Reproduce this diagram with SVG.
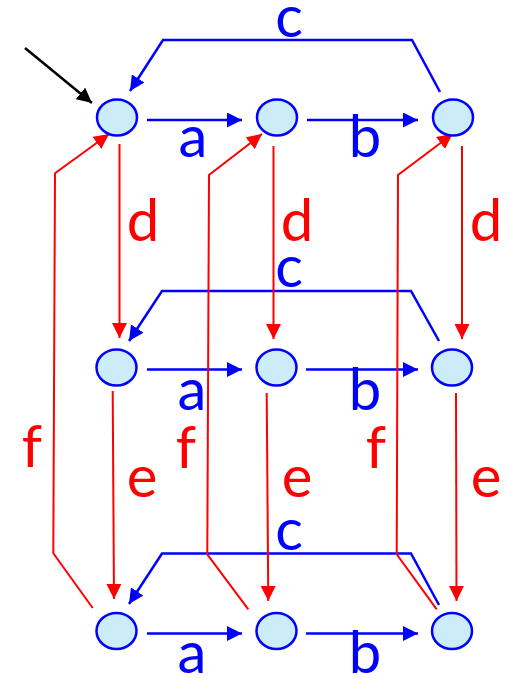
<svg xmlns="http://www.w3.org/2000/svg" width="510" height="678" viewBox="0 0 510 678">
<style>
.node{fill:#CCECFA;stroke:#0000FF;stroke-width:2.5}
.b{stroke:#0000FF;stroke-width:2.5;fill:none}
.r{stroke:#FF0000;stroke-width:2;fill:none}
.k{stroke:#000;stroke-width:2.5;fill:none}
text{font-family:Lato,"Liberation Sans",sans-serif;font-size:58px;text-anchor:middle}
.tb{fill:#0000FF}
.tr{fill:#FF0000}
</style>
<defs>
<marker id="ab" viewBox="0 0 15 15" refX="15" refY="7.5" markerWidth="15" markerHeight="15" markerUnits="userSpaceOnUse" orient="auto"><path d="M0,0L15,7.5L0,15z" fill="#0000FF"/></marker>
<marker id="ar" viewBox="0 0 15 15" refX="15" refY="7.5" markerWidth="15" markerHeight="15" markerUnits="userSpaceOnUse" orient="auto"><path d="M0,0L15,7.5L0,15z" fill="#FF0000"/></marker>
<marker id="ak" viewBox="0 0 15 15" refX="15" refY="7.5" markerWidth="15" markerHeight="15" markerUnits="userSpaceOnUse" orient="auto"><path d="M0,0L15,7.5L0,15z" fill="#000"/></marker>
</defs>
<g id="connectors">
<line class="k" x1="25" y1="48" x2="92" y2="103" marker-end="url(#ak)"/>
<!-- a / b -->
<line class="b" x1="147" y1="120" x2="242" y2="120" marker-end="url(#ab)"/>
<line class="b" x1="307" y1="120" x2="418" y2="120" marker-end="url(#ab)"/>
<line class="b" x1="147" y1="369.5" x2="242" y2="369.5" marker-end="url(#ab)"/>
<line class="b" x1="306" y1="369.5" x2="418" y2="369.5" marker-end="url(#ab)"/>
<line class="b" x1="147" y1="633.5" x2="242" y2="633.5" marker-end="url(#ab)"/>
<line class="b" x1="306" y1="633.5" x2="418" y2="633.5" marker-end="url(#ab)"/>
<!-- c -->
<polyline class="b" points="440,92 412,40 163,40 130,91" marker-end="url(#ab)"/>
<polyline class="b" points="439,341 411,291 162,291 129,341" marker-end="url(#ab)"/>
<polyline class="b" points="439,605 411,553.5 162,553.5 129,604" marker-end="url(#ab)"/>
<!-- d -->
<line class="r" x1="119.5" y1="144" x2="119.5" y2="338" marker-end="url(#ar)"/>
<line class="r" x1="273.5" y1="146" x2="273.5" y2="339" marker-end="url(#ar)"/>
<line class="r" x1="462" y1="146" x2="462" y2="339" marker-end="url(#ar)"/>
<!-- e -->
<line class="r" x1="112.7" y1="391" x2="114" y2="599" marker-end="url(#ar)"/>
<line class="r" x1="266.7" y1="393" x2="268.3" y2="601" marker-end="url(#ar)"/>
<line class="r" x1="456" y1="393" x2="456.5" y2="601" marker-end="url(#ar)"/>
<!-- f -->
<polyline class="r" points="92.7,608 53.3,553.3 55,173.3 109,134" marker-end="url(#ar)"/>
<polyline class="r" points="248.3,609.3 207.3,554.3 209,175 262,134" marker-end="url(#ar)"/>
<polyline class="r" points="436.7,609.3 396.7,554.3 398,175 452.5,134" marker-end="url(#ar)"/>
</g>
<g id="n11"><ellipse class="node" cx="117" cy="117.5" rx="20" ry="18"/></g>
<g id="n12"><ellipse class="node" cx="277" cy="117.5" rx="20" ry="18"/></g>
<g id="n13"><ellipse class="node" cx="453" cy="117.5" rx="20" ry="18"/></g>
<g id="n21"><ellipse class="node" cx="116.5" cy="367.5" rx="20" ry="18"/></g>
<g id="n22"><ellipse class="node" cx="276.5" cy="367.5" rx="20" ry="18"/></g>
<g id="n23"><ellipse class="node" cx="452" cy="367.5" rx="20" ry="18"/></g>
<g id="n31"><ellipse class="node" cx="116.5" cy="631" rx="20" ry="18"/></g>
<g id="n32"><ellipse class="node" cx="276.5" cy="631" rx="20" ry="18"/></g>
<g id="n33"><ellipse class="node" cx="452" cy="631" rx="20" ry="18"/></g>
<g id="labels">
<text class="tb" x="289" y="37">c</text>
<text class="tb" x="193" y="157">a</text>
<text class="tb" x="365" y="157">b</text>
<text class="tr" x="143" y="241">d</text>
<text class="tr" x="297" y="241">d</text>
<text class="tr" x="486" y="241">d</text>
<text class="tb" x="289" y="287">c</text>
<text class="tb" x="192" y="410">a</text>
<text class="tb" x="365" y="410">b</text>
<text class="tr" x="32" y="467">f</text>
<text class="tr" x="186" y="468">f</text>
<text class="tr" x="376" y="468">f</text>
<text class="tr" x="142" y="497">e</text>
<text class="tr" x="297" y="497">e</text>
<text class="tr" x="486" y="497">e</text>
<text class="tb" x="289" y="550">c</text>
<text class="tb" x="192" y="673">a</text>
<text class="tb" x="365" y="673">b</text>
</g>
</svg>
